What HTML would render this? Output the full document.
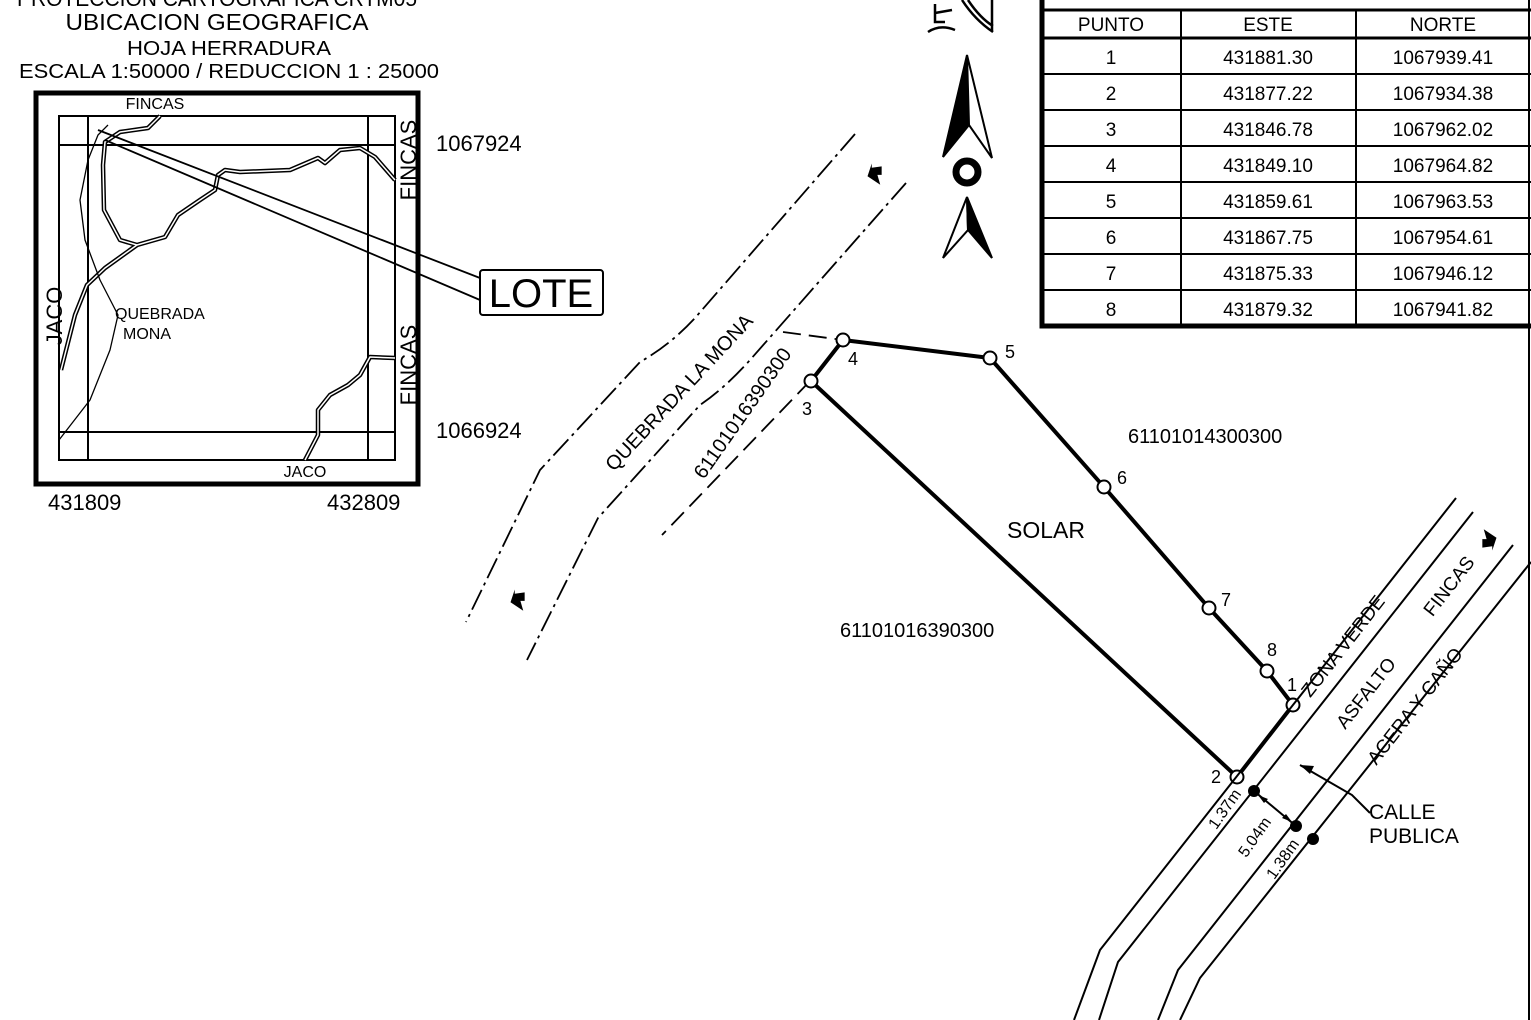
<!DOCTYPE html>
<html><head><meta charset="utf-8"><style>
html,body{margin:0;padding:0;background:#fff;}
svg{display:block;font-family:"Liberation Sans",Arial,sans-serif;}
</style></head><body>
<svg width="1531" height="1020" viewBox="0 0 1531 1020" xmlns="http://www.w3.org/2000/svg">
<rect width="1531" height="1020" fill="#fff"/>
<g fill="#000" text-anchor="middle">
<text x="217" y="6" font-size="22" textLength="400" lengthAdjust="spacingAndGlyphs">PROTECCION CARTOGRAFICA CRTM05</text>
<text x="217" y="30" font-size="23" textLength="303" lengthAdjust="spacingAndGlyphs">UBICACION GEOGRAFICA</text>
<text x="229" y="55" font-size="20" textLength="204" lengthAdjust="spacingAndGlyphs">HOJA HERRADURA</text>
<text x="229" y="78" font-size="20" textLength="420" lengthAdjust="spacingAndGlyphs">ESCALA 1:50000 / REDUCCION 1 : 25000</text>
</g>
<rect x="36" y="93" width="382" height="391" fill="none" stroke="#000" stroke-width="5"/>
<rect x="59" y="116" width="336" height="344" fill="none" stroke="#000" stroke-width="2"/>
<line x1="88" y1="116" x2="88" y2="460" stroke="#000" stroke-width="2"/>
<line x1="368" y1="116" x2="368" y2="460" stroke="#000" stroke-width="2"/>
<line x1="59" y1="145" x2="395" y2="145" stroke="#000" stroke-width="2"/>
<line x1="59" y1="432" x2="395" y2="432" stroke="#000" stroke-width="2"/>
<g fill="none" stroke-linejoin="round">
<g stroke="#000" stroke-width="4.5">
<path d="M160,116 L148,128 L120,132 L105,142 L103,165 L104,210 L120,240 L137,245 L165,237 L178,215 L200,200 L215,190 L218,175 L225,170 L240,172 L290,170 L318,158 L325,163 L340,150 L360,148 L375,157 L395,180"/>
<path d="M61,370 L75,315 L87,285 L105,268 L137,245"/>
<path d="M395,358 L370,357 L360,375 L348,385 L330,395 L318,410 L318,435 L305,460"/>
</g>
<g stroke="#fff" stroke-width="1.5">
<path d="M160,116 L148,128 L120,132 L105,142 L103,165 L104,210 L120,240 L137,245 L165,237 L178,215 L200,200 L215,190 L218,175 L225,170 L240,172 L290,170 L318,158 L325,163 L340,150 L360,148 L375,157 L395,180"/>
<path d="M61,370 L75,315 L87,285 L105,268 L137,245"/>
<path d="M395,358 L370,357 L360,375 L348,385 L330,395 L318,410 L318,435 L305,460"/>
</g>
<path d="M108,125 L98,135 L88,160 L80,200 L85,240 L100,280 L118,315 L110,350 L90,400 L59,440" stroke="#000" stroke-width="1.3"/>
<path d="M98,130 L480,278 M105,140 L480,300" stroke="#000" stroke-width="1.8"/>
</g>
<rect x="480" y="270" width="123" height="45" rx="3" fill="#fff" stroke="#000" stroke-width="2"/>
<text x="541" y="307" font-size="40" text-anchor="middle">LOTE</text>
<g font-size="16" fill="#000">
<text x="155" y="109" text-anchor="middle">FINCAS</text>
<text x="305" y="477" text-anchor="middle">JACO</text>
<text x="115" y="319">QUEBRADA</text>
<text x="123" y="339">MONA</text>
<g font-size="22">
<text transform="translate(416,160) rotate(-90)" text-anchor="middle">FINCAS</text>
<text transform="translate(416,365) rotate(-90)" text-anchor="middle">FINCAS</text>
<text transform="translate(62,316) rotate(-90)" text-anchor="middle">JACO</text>
</g>
</g>
<g font-size="22" fill="#000">
<text x="436" y="151">1067924</text>
<text x="436" y="438">1066924</text>
<text x="48" y="510">431809</text>
<text x="327" y="510">432809</text>
</g>
<g fill="#000" stroke="#000" stroke-width="2" stroke-linejoin="miter">
<path d="M967,55 L943,157 L969,125 Z"/>
<path d="M967,55 L992,158 L969,125 Z" fill="#fff"/>
<path d="M967,197 L943,258 L968,230 Z" fill="#fff"/>
<path d="M967,197 L992,258 L968,230 Z"/>
</g>
<circle cx="967" cy="172" r="11" fill="none" stroke="#000" stroke-width="7"/>
<g fill="none" stroke="#000" stroke-width="2.5">
<path d="M935,4 L935,22 L945,22 M935,13 L952,10"/>
<path d="M928,32 Q940,24 955,30"/>
<path d="M962,0 Q975,20 993,32 M968,0 Q980,18 993,26 M992,0 L992,32"/>
</g>
<g stroke="#000" fill="none">
<path d="M1042,0 L1042,326 L1531,326" stroke-width="5"/>
<line x1="1042" y1="10" x2="1531" y2="10" stroke-width="3"/>
<line x1="1042" y1="38" x2="1531" y2="38" stroke-width="3"/>
<g stroke-width="2">
<line x1="1042" y1="74" x2="1531" y2="74"/>
<line x1="1042" y1="110" x2="1531" y2="110"/>
<line x1="1042" y1="146" x2="1531" y2="146"/>
<line x1="1042" y1="182" x2="1531" y2="182"/>
<line x1="1042" y1="218" x2="1531" y2="218"/>
<line x1="1042" y1="254" x2="1531" y2="254"/>
<line x1="1042" y1="290" x2="1531" y2="290"/>
<line x1="1181" y1="10" x2="1181" y2="326"/>
<line x1="1356" y1="10" x2="1356" y2="326"/>
</g>
<line x1="1529" y1="0" x2="1529" y2="1020" stroke-width="2"/>
</g>
<g font-size="19" fill="#000" text-anchor="middle">
<text x="1111" y="31">PUNTO</text><text x="1268" y="31">ESTE</text><text x="1443" y="31">NORTE</text>
<text x="1111" y="64">1</text><text x="1268" y="64">431881.30</text><text x="1443" y="64">1067939.41</text>
<text x="1111" y="100">2</text><text x="1268" y="100">431877.22</text><text x="1443" y="100">1067934.38</text>
<text x="1111" y="136">3</text><text x="1268" y="136">431846.78</text><text x="1443" y="136">1067962.02</text>
<text x="1111" y="172">4</text><text x="1268" y="172">431849.10</text><text x="1443" y="172">1067964.82</text>
<text x="1111" y="208">5</text><text x="1268" y="208">431859.61</text><text x="1443" y="208">1067963.53</text>
<text x="1111" y="244">6</text><text x="1268" y="244">431867.75</text><text x="1443" y="244">1067954.61</text>
<text x="1111" y="280">7</text><text x="1268" y="280">431875.33</text><text x="1443" y="280">1067946.12</text>
<text x="1111" y="316">8</text><text x="1268" y="316">431879.32</text><text x="1443" y="316">1067941.82</text>
</g>
<g fill="none" stroke="#000" stroke-width="1.8" stroke-dasharray="22,5,3,5">
<path d="M855,134 L695,318 Q670,345 640,362 L540,470 L466,622"/>
<path d="M906,183 L750,360 Q725,388 700,405 L598,518 L527,660"/>
</g>
<g fill="none" stroke="#000" stroke-width="1.8" stroke-dasharray="18,8">
<path d="M783,332 L843,340"/>
<path d="M810,381 L662,535"/>
</g>
<g fill="#000">
<path d="M0,-8 L6,-2 L3,1 L12,6 L-3,9 L-9,-3 L-6,0 Z" transform="translate(876,172) rotate(45)"/>
<path d="M0,-8 L6,-2 L3,1 L12,6 L-3,9 L-9,-3 L-6,0 Z" transform="translate(519,598) rotate(45)"/>
<path d="M0,-8 L6,-2 L3,1 L12,6 L-3,9 L-9,-3 L-6,0 Z" transform="translate(1488,542) rotate(225)"/>
</g>
<g fill="none" stroke="#000" stroke-width="4" stroke-linejoin="round">
<path d="M1293,705 L1267,671 L1209,608 L1104,487 L990,358 L843,340 L811,381 L1237,777 L1293,705"/>
</g>
<g fill="#fff" stroke="#000" stroke-width="2">
<circle cx="1293" cy="705" r="6.5"/><circle cx="1237" cy="777" r="6.5"/>
<circle cx="811" cy="381" r="6.5"/><circle cx="843" cy="340" r="6.5"/>
<circle cx="990" cy="358" r="6.5"/><circle cx="1104" cy="487" r="6.5"/>
<circle cx="1209" cy="608" r="6.5"/><circle cx="1267" cy="671" r="6.5"/>
</g>
<g font-size="18" fill="#000">
<text x="1287" y="691">1</text><text x="1211" y="783">2</text><text x="802" y="415">3</text>
<text x="848" y="365">4</text><text x="1005" y="358">5</text><text x="1117" y="484">6</text>
<text x="1221" y="606">7</text><text x="1267" y="656">8</text>
</g>
<g font-size="21" fill="#000">
<text x="1007" y="538" font-size="23">SOLAR</text>
<text x="1128" y="443" font-size="20">61101014300300</text>
<text x="840" y="637" font-size="20">61101016390300</text>
<text x="1369" y="819">CALLE</text>
<text x="1369" y="843">PUBLICA</text>
<text transform="translate(684,397) rotate(-47)" text-anchor="middle" font-size="20">QUEBRADA LA MONA</text>
<text transform="translate(748,417) rotate(-55)" text-anchor="middle" font-size="20">61101016390300</text>
<text transform="translate(1348,650) rotate(-52)" text-anchor="middle" font-size="19">ZONA VERDE</text>
<text transform="translate(1371,697) rotate(-52)" text-anchor="middle" font-size="19">ASFALTO</text>
<text transform="translate(1454,590) rotate(-52)" text-anchor="middle" font-size="19">FINCAS</text>
<text transform="translate(1420,710) rotate(-52)" text-anchor="middle" font-size="19">ACERA Y CAÑO</text>
<text transform="translate(1229,812) rotate(-55)" text-anchor="middle" font-size="16">1.37m</text>
<text transform="translate(1259,840) rotate(-55)" text-anchor="middle" font-size="16">5.04m</text>
<text transform="translate(1287,862) rotate(-55)" text-anchor="middle" font-size="16">1.38m</text>
</g>
<g fill="none" stroke="#000" stroke-width="2">
<path d="M1456,498 L1100,950 L1074,1020"/>
<path d="M1473,512 L1118,962 L1099,1020"/>
<path d="M1513,545 L1178,970 L1158,1020"/>
<path d="M1531,562 L1200,978 L1180,1020"/>
<line x1="1254" y1="791" x2="1296" y2="826"/>
<path d="M1370,813 L1352,795 L1300,765"/>
</g>
<g fill="#000">
<path d="M1300,765 L1314,766 L1310,774 Z"/>
<path d="M1258,795 L1268,799 L1264,803 Z"/>
<path d="M1292,822 L1282,818 L1286,814 Z"/>
<circle cx="1254" cy="791" r="6"/><circle cx="1296" cy="826" r="6"/><circle cx="1313" cy="839" r="6"/>
</g>
</svg>
</body></html>
